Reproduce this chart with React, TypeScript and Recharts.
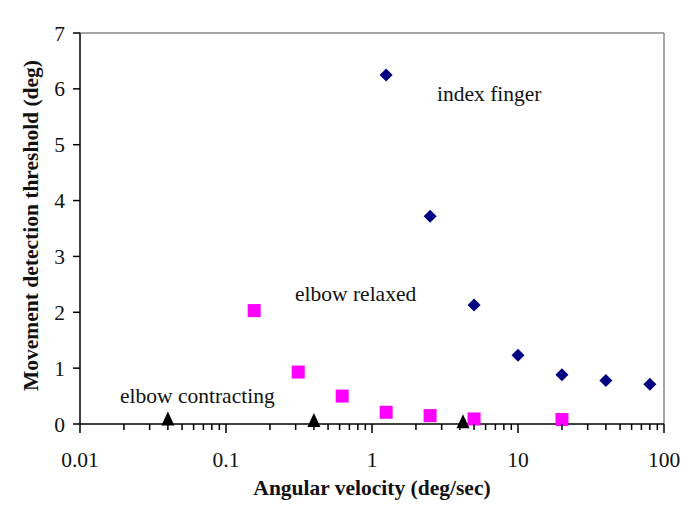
import React from 'react';
import { ScatterChart, Scatter, XAxis, YAxis, ReferenceLine } from 'recharts';

const indexX = [1.25, 2.5, 5, 10, 20, 40, 80];
const indexY = [6.25, 3.72, 2.13, 1.23, 0.88, 0.78, 0.71];
const relaxedX = [0.156, 0.3125, 0.625, 1.25, 2.5, 5, 20];
const relaxedY = [2.03, 0.93, 0.5, 0.21, 0.15, 0.09, 0.08];
const contractX = [0.04, 0.4, 4.2];
const contractY = [0.1, 0.07, 0.05];

const xTicks = [
  0.01, 0.02, 0.03, 0.04, 0.05, 0.06, 0.07, 0.08, 0.09,
  0.1, 0.2, 0.3, 0.4, 0.5, 0.6, 0.7, 0.8, 0.9,
  1, 2, 3, 4, 5, 6, 7, 8, 9,
  10, 20, 30, 40, 50, 60, 70, 80, 90, 100,
];
const xMajor = [0.01, 0.1, 1, 10, 100];
const xMajorLabels = ['0.01', '0.1', '1', '10', '100'];
const yTicks = [0, 1, 2, 3, 4, 5, 6, 7];

const annoX = [2.79, 0.297, 0.0188];
const annoY = [5.89, 2.31, 0.48];
const annoText = ['index finger', 'elbow relaxed', 'elbow contracting'];

const toPts = (xs: number[], ys: number[]) => xs.map((x, i) => ({ x, y: ys[i] }));
const indexData = toPts(indexX, indexY);
const relaxedData = toPts(relaxedX, relaxedY);
const contractData = toPts(contractX, contractY);
const annoData = annoX.map((x, i) => ({ x, y: annoY[i], text: annoText[i] }));

const FONT = '"Liberation Serif", "Times New Roman", serif';
const FS = 21.5;

const Diamond = (p: any) => {
  const { cx, cy } = p;
  const r = 6.5;
  return <polygon points={`${cx},${cy - r} ${cx + r},${cy} ${cx},${cy + r} ${cx - r},${cy}`} fill="#000080" />;
};
const Square = (p: any) => {
  const { cx, cy } = p;
  const s = 6.5;
  return <rect x={cx - s} y={cy - s} width={2 * s} height={2 * s} fill="#ff00ff" />;
};
const Triangle = (p: any) => {
  const { cx, cy } = p;
  return <polygon points={`${cx},${cy - 7} ${cx + 6.5},${cy + 7} ${cx - 6.5},${cy + 7}`} fill="#000000" />;
};
const AnnoText = (p: any) => {
  const { cx, cy, payload } = p;
  return (
    <text x={cx} y={cy} dy={6} textAnchor="start" fontFamily={FONT} fontSize={FS} fill="#111">
      {payload.text}
    </text>
  );
};

const XTick = (p: any) => {
  const { x, y, payload } = p;
  const v = payload.value;
  const idx = xMajor.findIndex((m) => Math.abs(m - v) / m < 1e-6);
  const major = idx >= 0;
  return (
    <g>
      <line x1={x} x2={x} y1={y} y2={y + (major ? 9 : 6)} stroke="#000" strokeWidth={1.5} />
      {major && (
        <text x={x} y={y + 43} textAnchor="middle" fontFamily={FONT} fontSize={FS} fill="#111">
          {xMajorLabels[idx]}
        </text>
      )}
    </g>
  );
};

export default function App() {
  return (
    <div style={{ position: 'absolute', left: 0, top: 0, background: '#fff' }}>
      <ScatterChart width={683} height={515} margin={{ top: 33, right: 19, left: 0, bottom: 0 }}>
        <XAxis
          dataKey="x"
          type="number"
          scale="log"
          domain={[0.01, 100]}
          ticks={xTicks}
          allowDataOverflow
          interval={0}
          height={91}
          tickLine={false}
          tickSize={0}
          tickMargin={0}
          tick={<XTick />}
          axisLine={{ stroke: '#000', strokeWidth: 1.5 }}
          label={{
            content: (lp: any) => {
              const vb = lp.viewBox || {};
              return (
                <text
                  x={vb.x + vb.width / 2}
                  y={vb.y + 71}
                  textAnchor="middle"
                  fontFamily={FONT}
                  fontSize={FS}
                  fontWeight="bold"
                  fill="#111"
                >
                  Angular velocity (deg/sec)
                </text>
              );
            },
          }}
        />
        <YAxis
          dataKey="y"
          type="number"
          domain={[0, 7]}
          ticks={yTicks}
          interval={0}
          width={80}
          tickSize={7}
          tickMargin={8}
          tickLine={{ stroke: '#000', strokeWidth: 1.5 }}
          axisLine={{ stroke: '#000', strokeWidth: 1.5 }}
          tick={{ fontFamily: FONT, fontSize: FS, fill: '#111' }}
          label={{
            content: (lp: any) => {
              const vb = lp.viewBox || {};
              const cx = 30.5;
              const cy = vb.y + vb.height / 2 - 3;
              return (
                <text
                  x={cx}
                  y={cy}
                  transform={`rotate(-90 ${cx} ${cy})`}
                  textAnchor="middle"
                  dominantBaseline="central"
                  fontFamily={FONT}
                  fontSize={FS}
                  fontWeight="bold"
                  fill="#111"
                >
                  Movement detection threshold (deg)
                </text>
              );
            },
          }}
        />
        <ReferenceLine y={7} stroke="#888" strokeWidth={1.5} />
        <ReferenceLine x={100} stroke="#888" strokeWidth={1.5} />
        <Scatter data={indexData} shape={<Diamond />} isAnimationActive={false} />
        <Scatter data={relaxedData} shape={<Square />} isAnimationActive={false} />
        <Scatter data={contractData} shape={<Triangle />} isAnimationActive={false} />
        <Scatter data={annoData} shape={<AnnoText />} isAnimationActive={false} />
      </ScatterChart>
    </div>
  );
}
